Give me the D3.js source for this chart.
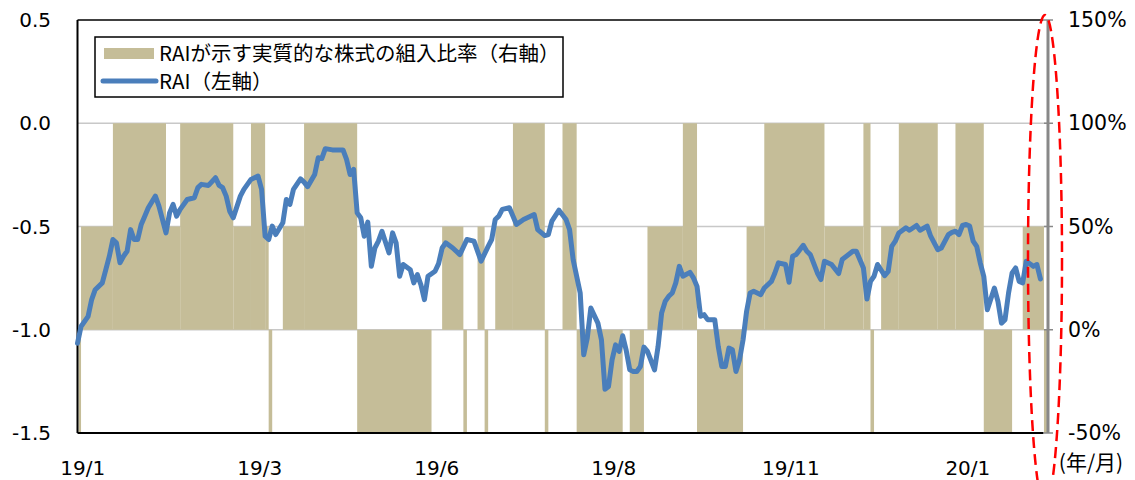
<!DOCTYPE html>
<html>
<head>
<meta charset="utf-8">
<script src="https://cdn.jsdelivr.net/npm/d3@7"></script>
<style>
  body { margin: 0; background: #fff; }
  text { font-family: "DejaVu Sans", Verdana, sans-serif; fill: #000; }
  .jp { font-family: "Noto Sans CJK JP", "DejaVu Sans", sans-serif; }
</style>
</head>
<body>
<svg width="1135" height="480"></svg>
<script>
// x axis: business-day index, a label every 50 days
var xLabels = ["19/1", "19/3", "19/6", "19/8", "19/11", "20/1"];
var xLabelDay = [1, 51, 101, 151, 201, 251];
var nDays = 274;

var leftTicks = [0.5, 0.0, -0.5, -1.0, -1.5];
var rightTicks = [150, 100, 50, 0, -50];

// equity ratio implied by RAI (%), as [value, last day of run]
var ratioRuns = [
  [-50, 0], [50, 9], [100, 24], [50, 28], [100, 43], [50, 48], [100, 52], [50, 53], [-50, 54], [0, 57],
  [50, 63], [100, 78], [-50, 99], [0, 102], [50, 108], [-50, 109], [0, 112], [50, 114], [-50, 115], [0, 117],
  [50, 122], [100, 131], [-50, 132], [0, 136], [100, 140], [-50, 153], [0, 155], [-50, 159], [0, 160], [50, 170],
  [100, 174], [-50, 187], [0, 188], [50, 193], [100, 210], [50, 221], [100, 223], [-50, 224], [0, 226], [50, 231],
  [100, 242], [50, 247], [100, 255], [-50, 263], [0, 266], [50, 272], [-50, 273]
];

// RAI (left axis), as [day, value]
var rai = [
  [0,-1.065],[1,-0.984],[3,-0.935],[4,-0.854],[5,-0.806],[7,-0.773],[8,-0.709],[9,-0.644],[10,-0.563],[11,-0.579],
  [12,-0.676],[13,-0.644],[14,-0.62],[15,-0.515],[16,-0.563],[17,-0.563],[18,-0.49],[19,-0.45],[20,-0.409],[22,-0.353],
  [23,-0.401],[25,-0.531],[26,-0.434],[27,-0.393],[28,-0.45],[29,-0.417],[31,-0.369],[33,-0.361],[34,-0.312],[35,-0.296],
  [37,-0.301],[39,-0.264],[40,-0.301],[41,-0.312],[42,-0.353],[43,-0.426],[44,-0.458],[46,-0.353],[47,-0.32],[49,-0.272],
  [51,-0.256],[52,-0.32],[53,-0.547],[54,-0.563],[55,-0.498],[56,-0.539],[58,-0.482],[59,-0.369],[60,-0.393],[61,-0.32],
  [63,-0.269],[64,-0.285],[65,-0.307],[67,-0.248],[68,-0.167],[69,-0.171],[70,-0.123],[72,-0.129],[75,-0.129],[76,-0.175],
  [77,-0.248],[78,-0.223],[79,-0.434],[80,-0.458],[81,-0.547],[82,-0.479],[83,-0.693],[84,-0.604],[85,-0.571],[86,-0.523],
  [88,-0.628],[89,-0.531],[90,-0.579],[91,-0.741],[92,-0.684],[94,-0.709],[95,-0.773],[96,-0.733],[97,-0.782],[98,-0.854],
  [99,-0.741],[101,-0.717],[102,-0.68],[103,-0.604],[104,-0.579],[106,-0.604],[108,-0.636],[110,-0.563],[112,-0.571],[114,-0.668],
  [116,-0.596],[117,-0.563],[118,-0.466],[119,-0.45],[120,-0.417],[122,-0.409],[124,-0.49],[126,-0.466],[129,-0.442],[130,-0.515],
  [132,-0.544],[133,-0.539],[134,-0.474],[136,-0.421],[138,-0.466],[139,-0.515],[140,-0.66],[142,-0.822],[143,-1.121],[144,-1.04],
  [145,-0.895],[147,-0.968],[148,-1.049],[149,-1.288],[150,-1.275],[151,-1.146],[152,-1.073],[153,-1.105],[154,-1.029],[155,-1.1],
  [156,-1.194],[157,-1.202],[158,-1.202],[159,-1.178],[160,-1.084],[161,-1.105],[163,-1.194],[164,-1.081],[165,-0.919],[166,-0.863],
  [167,-0.838],[168,-0.822],[169,-0.773],[170,-0.693],[171,-0.741],[173,-0.722],[174,-0.749],[175,-0.79],[176,-0.935],[177,-0.927],
  [178,-0.951],[180,-0.951],[181,-1.081],[182,-1.178],[183,-1.178],[184,-1.089],[185,-1.097],[186,-1.202],[187,-1.146],[188,-1.049],
  [189,-0.911],[190,-0.822],[191,-0.814],[193,-0.83],[194,-0.798],[196,-0.766],[197,-0.725],[198,-0.676],[200,-0.684],[201,-0.77],
  [202,-0.644],[203,-0.636],[205,-0.591],[206,-0.62],[207,-0.636],[209,-0.725],[210,-0.757],[211,-0.668],[213,-0.684],[215,-0.728],
  [216,-0.66],[219,-0.62],[220,-0.62],[222,-0.701],[223,-0.851],[224,-0.766],[225,-0.741],[226,-0.684],[228,-0.738],[229,-0.717],
  [230,-0.596],[231,-0.571],[232,-0.531],[234,-0.506],[235,-0.518],[237,-0.495],[238,-0.518],[240,-0.498],[241,-0.547],[243,-0.612],
  [244,-0.604],[246,-0.539],[247,-0.528],[248,-0.523],[249,-0.539],[250,-0.495],[251,-0.49],[252,-0.498],[253,-0.571],[254,-0.596],
  [255,-0.676],[256,-0.741],[257,-0.903],[259,-0.798],[260,-0.863],[261,-0.968],[262,-0.951],[263,-0.822],[264,-0.725],[265,-0.701],
  [266,-0.766],[267,-0.773],[268,-0.668],[270,-0.693],[271,-0.684],[272,-0.754]
];

var plotL = 77.5, plotR = 1043.5, plotT = 20, plotB = 433, axisX = 1048;
var svg = d3.select("svg");

// each day occupies [x(d), x(d+1)]
var x = d3.scaleLinear().domain([0, nDays]).range([plotL, 1047.5]);
var yL = d3.scaleLinear().domain([-1.5, 0.5]).range([plotB, plotT]);
var yR = d3.scaleLinear().domain([-50, 150]).range([plotB, plotT]);

// grid lines
svg.append("g").selectAll("line").data(leftTicks.slice(1, 4)).join("line")
  .attr("x1", plotL).attr("x2", axisX)
  .attr("y1", d => yL(d)).attr("y2", d => yL(d))
  .attr("stroke", "#c8c8c8").attr("stroke-width", 1.5);

// bars: one rect per run
var runs = [];
var start = 0;
ratioRuns.forEach(function(r) {
  runs.push({v: r[0], a: start, b: r[1]});
  start = r[1] + 1;
});
svg.append("g").selectAll("rect").data(runs.filter(r => r.v != 0)).join("rect")
  .attr("x", d => Math.max(plotL + 1, x(d.a)))
  .attr("width", d => x(d.b + 1) - Math.max(plotL + 1, x(d.a)))
  .attr("y", d => Math.min(yR(0), yR(d.v)))
  .attr("height", d => Math.abs(yR(0) - yR(d.v)))
  .attr("fill", "#c5bd98");

// frame: top, left and bottom in black
svg.append("line").attr("x1", plotL).attr("x2", plotR).attr("y1", plotT).attr("y2", plotT).attr("stroke", "#000").attr("stroke-width", 1.5);
svg.append("line").attr("x1", plotL).attr("x2", plotR).attr("y1", plotB).attr("y2", plotB).attr("stroke", "#000").attr("stroke-width", 2);
svg.append("line").attr("x1", plotL).attr("x2", plotL).attr("y1", plotT).attr("y2", plotB).attr("stroke", "#000").attr("stroke-width", 2);

// right axis in grey
svg.append("line").attr("x1", axisX).attr("x2", axisX).attr("y1", plotT).attr("y2", plotB).attr("stroke", "#888").attr("stroke-width", 3);
svg.append("g").selectAll("line").data(rightTicks).join("line")
  .attr("x1", axisX - 4).attr("x2", axisX + 5)
  .attr("y1", d => yR(d)).attr("y2", d => yR(d))
  .attr("stroke", "#888").attr("stroke-width", 1.5);

// RAI line
var line = d3.line().x(d => x(d[0])).y(d => yL(d[1]));
svg.append("path").datum(rai).attr("d", line)
  .attr("fill", "none").attr("stroke", "#4a7ebb").attr("stroke-width", 5)
  .attr("stroke-linejoin", "round").attr("stroke-linecap", "round");

// axis labels
svg.append("g").selectAll("text").data(leftTicks).join("text")
  .attr("x", 51).attr("y", d => yL(d)).attr("dy", "0.35em")
  .attr("text-anchor", "end").style("font-size", "20px")
  .text(d => d3.format(".1f")(d).replace("−", "-"));
svg.append("g").selectAll("text").data(rightTicks).join("text")
  .attr("x", 1068).attr("y", d => yR(d)).attr("dy", "0.35em")
  .style("font-size", "20.5px")
  .text(d => d + "%");
svg.append("g").selectAll("text").data(xLabels).join("text")
  .attr("x", (d, i) => x(xLabelDay[i] + 0.5)).attr("y", 475)
  .attr("text-anchor", "middle").style("font-size", "20px")
  .text(d => d);
svg.append("text").attr("class", "jp").attr("x", 1091).attr("y", 470)
  .attr("text-anchor", "middle").style("font-size", "21px").text("(年/月)");

// legend
var lg = svg.append("g");
lg.append("rect").attr("x", 95).attr("y", 37).attr("width", 468).attr("height", 60)
  .attr("fill", "#fff").attr("stroke", "#000").attr("stroke-width", 1.5);
lg.append("rect").attr("x", 104).attr("y", 48).attr("width", 50).attr("height", 11).attr("fill", "#c5bd98");
lg.append("line").attr("x1", 103).attr("x2", 156).attr("y1", 81).attr("y2", 81)
  .attr("stroke", "#4a7ebb").attr("stroke-width", 5).attr("stroke-linecap", "round");
lg.append("text").attr("class", "jp").attr("x", 159).attr("y", 54).attr("dy", "0.35em")
  .style("font-size", "20.5px").text("RAIが示す実質的な株式の組入比率（右軸）");
lg.append("text").attr("class", "jp").attr("x", 159).attr("y", 82).attr("dy", "0.35em")
  .style("font-size", "20.5px").text("RAI（左軸）");

// red dashed ellipse round the latest point
svg.append("ellipse").attr("cx", 1045).attr("cy", 260).attr("rx", 17).attr("ry", 245)
  .attr("fill", "none").attr("stroke", "#ff0000").attr("stroke-width", 2.5)
  .attr("stroke-dasharray", "11,6");
</script>
</body>
</html>
